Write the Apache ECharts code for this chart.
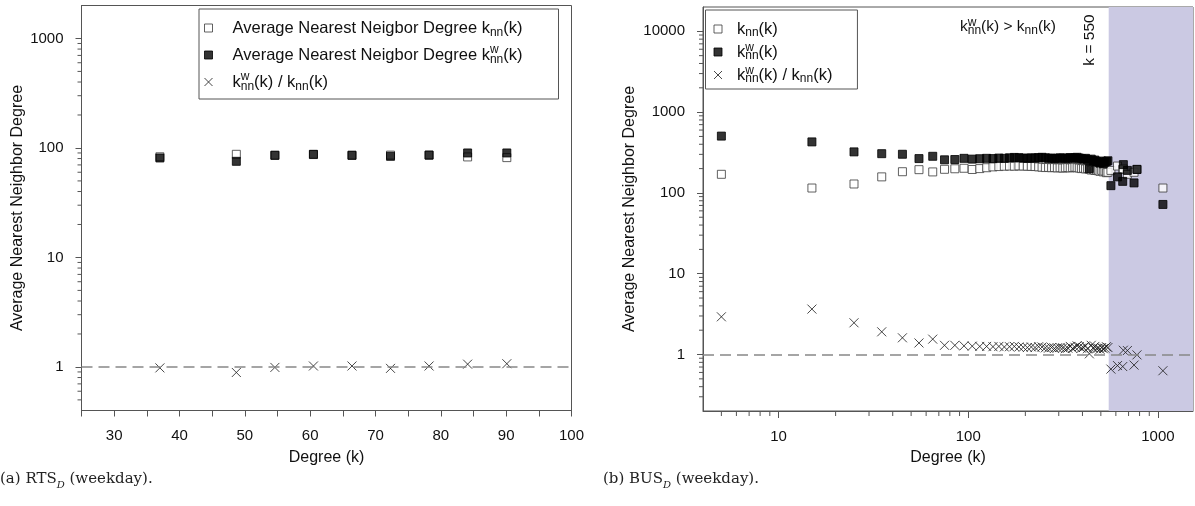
<!DOCTYPE html>
<html>
<head>
<meta charset="utf-8">
<title>Average Nearest Neighbor Degree</title>
<script src="https://cdn.jsdelivr.net/npm/echarts@6/dist/echarts.min.js"></script>
<style>
  html, body { margin: 0; padding: 0; background: #fff; }
  #main { width: 1195px; height: 506px; }
</style>
</head>
<body>
<div id="main"></div>
<script>
// (a) RTS_D weekday
var rtsDegree = [37, 48.7, 54.6, 60.5, 66.4, 72.3, 78.2, 84.1, 90.1];
var rtsKnn    = [83, 87.5, 85.7, 87, 85.7, 86, 86, 82.8, 81.6];
var rtsKnnW   = [81, 75.5, 85.7, 87.5, 85.7, 83.9, 86, 90, 90];
var rtsRatio  = [0.98, 0.89, 0.99, 1.02, 1.02, 0.97, 1.02, 1.06, 1.07];

// (b) BUS_D weekday
var busDegree = [5, 15, 25, 35, 45, 55, 65, 75, 85, 95,
  105, 115, 125, 135, 145, 155, 165, 175, 185, 195,
  205, 215, 225, 235, 245, 255, 265, 275, 285, 295,
  305, 315, 325, 335, 345, 355, 365, 375, 385, 395,
  405, 415, 425, 435, 445, 455, 465, 475, 485, 495,
  505, 515, 525, 535, 545,
  565, 612, 652, 657, 690, 748, 775, 1062];
var busKnn = [170, 115, 129, 158, 183, 194, 182, 196, 199, 202,
  195, 200, 205, 210, 212, 214, 215, 214, 216, 215,
  214, 213, 212, 210, 208, 206, 207, 205, 206, 204,
  205, 203, 205, 206, 204, 206, 208, 205, 203, 200,
  202, 198, 200, 196, 192, 195, 190, 192, 188, 185,
  190, 182, 186, 178, 180,
  190, 215, 195, 198, 170, 180, 196, 115];
var busKnnW = [505, 428, 322, 306, 301, 266, 284, 257, 259, 268,
  262, 265, 268, 266, 270, 268, 272, 275, 273, 270,
  268, 272, 270, 274, 276, 272, 268, 270, 266, 268,
  272, 270, 266, 270, 274, 268, 272, 276, 270, 266,
  262, 268, 258, 200, 262, 250, 255, 245, 240, 235,
  248, 230, 240, 245, 250,
  123, 158, 139, 224, 190, 133, 195, 72];
var busRatio = [2.93, 3.65, 2.47, 1.91, 1.61, 1.39, 1.55, 1.30, 1.30, 1.28,
  1.27, 1.26, 1.26, 1.25, 1.26, 1.24, 1.25, 1.26, 1.24, 1.23,
  1.22, 1.24, 1.22, 1.25, 1.24, 1.21, 1.2, 1.22, 1.19, 1.21,
  1.22, 1.21, 1.18, 1.2, 1.26, 1.19, 1.23, 1.28, 1.25, 1.2,
  1.22, 1.28, 1.18, 1.02, 1.3, 1.2, 1.26, 1.18, 1.2, 1.16,
  1.22, 1.18, 1.2, 1.25, 1.22,
  0.66, 0.73, 0.71, 1.13, 1.12, 0.74, 0.99, 0.63];

var threshold = 550;

var fontSans = 'Liberation Sans';
var fontSerif = 'DejaVu Serif';
var axisColor = '#555';
var textColor = '#111';

function pairs(xs, ys) {
  return xs.map(function (x, i) { return [x, ys[i]]; });
}

// minor ticks on log axes: 2..9 of each decade inside [lo, hi]
function logMinors(lo, hi) {
  var out = [];
  for (var e = -2; e <= 5; e++) {
    for (var m = 2; m <= 9; m++) {
      var v = m * Math.pow(10, e);
      if (v > lo && v < hi) out.push(+v.toPrecision(3));
    }
  }
  return out;
}

function plain(v) { return String(+(+v).toPrecision(6)); }

var squarePath = 'path://M0,0L10,0L10,10L0,10Z';
var crossPath = 'path://M0,0L10,10M10,0L0,10';

var openStyle = { color: '#ffffff', borderColor: '#3a3a3a', borderWidth: 1 };
var fillStyle = { color: '#000000', borderColor: '#000000', borderWidth: 1 };
var crossStyle = { color: 'none', borderColor: '#1a1a1a', borderWidth: 1 };

var rich = {
  sub: { fontSize: 12, fontFamily: fontSans, color: textColor, verticalAlign: 'bottom', lineHeight: 14 },
  sup: { fontSize: 12, fontFamily: fontSans, color: textColor, verticalAlign: 'top', lineHeight: 14, width: 0 }
};
var KNN = 'k{sub|nn}(k)';
var KNNW = 'k{sup|w}{sub|nn}(k)';

var labelsA = {
  'A knn': 'Average Nearest Neigbor Degree ' + KNN,
  'A knnw': 'Average Nearest Neigbor Degree ' + KNNW,
  'A ratio': KNNW + ' / ' + KNN
};
var labelsB = {
  'B knn': KNN,
  'B knnw': KNNW,
  'B ratio': KNNW + ' / ' + KNN
};

function yMinorTick(params, api) {
  var p = api.coord([api.value(0), api.value(1)]);
  return { type: 'line', shape: { x1: p[0] - 4, y1: p[1], x2: p[0], y2: p[1] },
    style: { stroke: axisColor, lineWidth: 1 } };
}
function xMinorTick(params, api) {
  var p = api.coord([api.value(0), api.value(1)]);
  return { type: 'line', shape: { x1: p[0], y1: p[1], x2: p[0], y2: p[1] + 5 },
    style: { stroke: axisColor, lineWidth: 1 } };
}

var axisNameStyle = { fontSize: 16, fontFamily: fontSans, color: textColor };
var axisLabelStyle = { fontSize: 15, fontFamily: fontSans, color: textColor };

var yMinA = 0.4, yMaxA = 2000, xMinA = 25, xMaxA = 100;
var yMinB = 0.2, yMaxB = 20000, xMinB = 4, xMaxB = 1530;

var chart = echarts.init(document.getElementById('main'));

var option = {
  backgroundColor: '#fff',
  animation: false,
  grid: [
    { left: 81.5, top: 5.5, width: 490, height: 405, show: true, borderColor: axisColor, borderWidth: 1,
      backgroundColor: 'transparent', containLabel: false, outerBoundsMode: 'none' },
    { left: 703, top: 7, width: 490, height: 404, show: true, borderColor: axisColor, borderWidth: 1,
      backgroundColor: 'transparent', containLabel: false, outerBoundsMode: 'none' }
  ],
  xAxis: [
    { type: 'value', gridIndex: 0, min: xMinA, max: xMaxA, interval: 5,
      axisLine: { onZero: false, lineStyle: { color: axisColor } },
      axisTick: { length: 6, lineStyle: { color: axisColor } },
      splitLine: { show: false },
      axisLabel: Object.assign({ margin: 18, showMinLabel: true, showMaxLabel: true,
        formatter: function (v) { return v % 10 === 0 ? String(v) : ''; } }, axisLabelStyle),
      name: 'Degree (k)', nameLocation: 'middle', nameGap: 39, nameMoveOverlap: false,
      nameTextStyle: axisNameStyle },
    { type: 'log', gridIndex: 1, min: xMinB, max: xMaxB, logBase: 10,
      axisLine: { onZero: false, lineStyle: { color: axisColor } },
      axisTick: { length: 7, lineStyle: { color: axisColor } },
      splitLine: { show: false },
      axisLabel: Object.assign({ margin: 18, showMinLabel: false, showMaxLabel: false, formatter: plain },
        axisLabelStyle),
      name: 'Degree (k)', nameLocation: 'middle', nameGap: 39, nameMoveOverlap: false,
      nameTextStyle: axisNameStyle }
  ],
  yAxis: [
    { type: 'log', gridIndex: 0, min: yMinA, max: yMaxA, logBase: 10,
      axisLine: { onZero: false, lineStyle: { color: axisColor } },
      axisTick: { length: 6, lineStyle: { color: axisColor } },
      splitLine: { show: false },
      axisLabel: Object.assign({ margin: 18, showMinLabel: false, showMaxLabel: false, formatter: plain },
        axisLabelStyle),
      name: 'Average Nearest Neighbor Degree', nameLocation: 'middle', nameGap: 56, nameMoveOverlap: false,
      nameTextStyle: axisNameStyle },
    { type: 'log', gridIndex: 1, min: yMinB, max: yMaxB, logBase: 10,
      axisLine: { onZero: false, lineStyle: { color: axisColor } },
      axisTick: { length: 6, lineStyle: { color: axisColor } },
      splitLine: { show: false },
      axisLabel: Object.assign({ margin: 18, showMinLabel: false, showMaxLabel: false, formatter: plain },
        axisLabelStyle),
      name: 'Average Nearest Neighbor Degree', nameLocation: 'middle', nameGap: 65, nameMoveOverlap: false,
      nameTextStyle: axisNameStyle }
  ],
  legend: [
    { left: 199, top: 9, orient: 'vertical', selectedMode: false,
      padding: [8, 36, 6, 3], itemGap: 5, itemWidth: 38, itemHeight: 8,
      symbolKeepAspect: true,
      borderColor: axisColor, borderWidth: 1, backgroundColor: '#fff',
      itemStyle: { borderWidth: 1 },
      data: ['A knn', 'A knnw', 'A ratio'],
      formatter: function (n) { return labelsA[n]; },
      textStyle: { fontSize: 16.5, fontFamily: fontSans, color: textColor, lineHeight: 22, rich: rich } },
    { left: 705.5, top: 10, orient: 'vertical', selectedMode: false,
      padding: [9, 25, 4, 6], itemGap: 3, itemWidth: 28, itemHeight: 8,
      symbolKeepAspect: true,
      borderColor: axisColor, borderWidth: 1, backgroundColor: '#fff',
      itemStyle: { borderWidth: 1 },
      data: ['B knn', 'B knnw', 'B ratio'],
      formatter: function (n) { return labelsB[n]; },
      textStyle: { fontSize: 16.5, fontFamily: fontSans, color: textColor, lineHeight: 20, rich: rich } }
  ],
  series: [
    { name: 'A knn', type: 'scatter', xAxisIndex: 0, yAxisIndex: 0,
      symbol: squarePath, symbolSize: 8, symbolKeepAspect: true, itemStyle: openStyle,
      data: pairs(rtsDegree, rtsKnn), z: 3 },
    { name: 'A knnw', type: 'scatter', xAxisIndex: 0, yAxisIndex: 0,
      symbol: squarePath, symbolSize: 8, symbolKeepAspect: true, itemStyle: fillStyle,
      data: pairs(rtsDegree, rtsKnnW), z: 4 },
    { name: 'A ratio', type: 'scatter', xAxisIndex: 0, yAxisIndex: 0,
      symbol: crossPath, symbolSize: 9, symbolKeepAspect: true, itemStyle: crossStyle,
      data: pairs(rtsDegree, rtsRatio), z: 4,
      markLine: { silent: true, symbol: ['none', 'none'], label: { show: false },
        lineStyle: { color: '#888', width: 1.5, type: [11, 6] },
        data: [{ yAxis: 1 }] } },

    { name: 'B knn', type: 'scatter', xAxisIndex: 1, yAxisIndex: 1,
      symbol: squarePath, symbolSize: 8, symbolKeepAspect: true, itemStyle: openStyle,
      data: pairs(busDegree, busKnn), z: 3,
      markArea: { silent: true, itemStyle: { color: '#cbc9e3' },
        data: [[{ xAxis: threshold }, { xAxis: xMaxB }]] } },
    { name: 'B knnw', type: 'scatter', xAxisIndex: 1, yAxisIndex: 1,
      symbol: squarePath, symbolSize: 8, symbolKeepAspect: true, itemStyle: fillStyle,
      data: pairs(busDegree, busKnnW), z: 4 },
    { name: 'B ratio', type: 'scatter', xAxisIndex: 1, yAxisIndex: 1,
      symbol: crossPath, symbolSize: 9, symbolKeepAspect: true, itemStyle: crossStyle,
      data: pairs(busDegree, busRatio), z: 4,
      markLine: { silent: true, symbol: ['none', 'none'], label: { show: false },
        lineStyle: { color: '#888', width: 1.5, type: [11, 6] },
        data: [{ yAxis: 1 }] } },

    // minor ticks of the log axes
    { type: 'custom', xAxisIndex: 0, yAxisIndex: 0, silent: true, clip: false, z: 5,
      renderItem: yMinorTick,
      data: logMinors(yMinA, yMaxA).map(function (v) { return [xMinA, v]; }) },
    { type: 'custom', xAxisIndex: 1, yAxisIndex: 1, silent: true, clip: false, z: 5,
      renderItem: yMinorTick,
      data: logMinors(yMinB, yMaxB).map(function (v) { return [xMinB, v]; }) },
    { type: 'custom', xAxisIndex: 1, yAxisIndex: 1, silent: true, clip: false, z: 5,
      renderItem: xMinorTick,
      data: logMinors(xMinB, xMaxB).map(function (v) { return [v, yMinB]; }) }
  ],
  graphic: [
    { type: 'text', x: 960, y: 27, z: 10,
      style: { text: KNNW + ' > ' + KNN, fontSize: 15.5, fontFamily: fontSans, fill: textColor,
        lineHeight: 20, verticalAlign: 'middle', rich: rich } },
    { type: 'text', x: 1090, y: 40, rotation: Math.PI / 2, z: 10,
      style: { text: 'k = 550', fontSize: 15.5, fontFamily: fontSans, fill: textColor,
        align: 'center', verticalAlign: 'middle' } },
    { type: 'text', x: 0, y: 479, z: 10,
      style: { text: '(a) RTS{d|D} (weekday).', fontSize: 15, fontFamily: fontSerif, fill: '#222',
        verticalAlign: 'middle', lineHeight: 22,
        rich: { d: { fontSize: 10, fontStyle: 'italic', fontFamily: fontSerif, color: '#222',
          verticalAlign: 'bottom', lineHeight: 14 } } } },
    { type: 'text', x: 603, y: 479, z: 10,
      style: { text: '(b) BUS{d|D} (weekday).', fontSize: 15, fontFamily: fontSerif, fill: '#222',
        verticalAlign: 'middle', lineHeight: 22,
        rich: { d: { fontSize: 10, fontStyle: 'italic', fontFamily: fontSerif, color: '#222',
          verticalAlign: 'bottom', lineHeight: 14 } } } }
  ]
};

chart.setOption(option);
</script>
</body>
</html>
